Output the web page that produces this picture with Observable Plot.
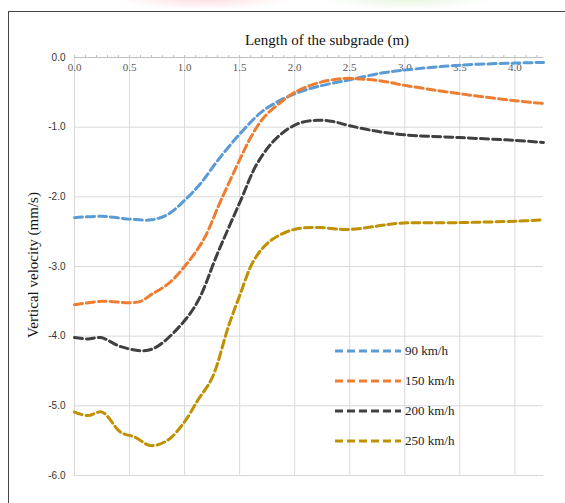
<!DOCTYPE html>
<html><head><meta charset="utf-8">
<script src="https://cdn.jsdelivr.net/npm/d3@7"></script>
<script src="https://cdn.jsdelivr.net/npm/@observablehq/plot@0.6"></script>
<style>
body{margin:0;background:#fff;}
#wrap{position:relative;width:565px;height:503px;overflow:hidden;}
#frame{position:absolute;left:8px;top:11px;width:620px;height:600px;border:1.5px solid #444;box-sizing:border-box;}
.blob{position:absolute;top:-14px;height:24px;border-radius:50%;}
#legend{position:absolute;left:335px;top:336px;font-family:"Liberation Serif","Times New Roman",serif;font-size:13px;color:#222;}
#legend div{height:30px;display:flex;align-items:center;}
#legend svg{margin-right:4px;}
#plot{position:absolute;left:0;top:0;}
</style></head><body>
<div id="wrap">
<div class="blob" style="left:115px;width:180px;background:radial-gradient(ellipse at center,rgba(250,190,195,0.55),rgba(255,255,255,0) 70%);"></div>
<div class="blob" style="left:320px;width:175px;background:radial-gradient(ellipse at center,rgba(205,235,190,0.55),rgba(255,255,255,0) 70%);"></div>
<div id="frame"></div>
<div id="plot"></div>
<div id="legend"></div>
</div>
<script>
const seriesNames = ["90 km/h", "150 km/h", "200 km/h", "250 km/h"];
const seriesColors = ["#5b9bd5", "#ed7d31", "#404040", "#bf9000"];

const x90 = [0, 0.25, 0.5, 0.7, 0.85, 1.0, 1.15, 1.3, 1.5, 1.7, 1.85, 2.0, 2.2, 2.5, 2.8, 3.0, 3.5, 4.0, 4.26];
const y90 = [-2.30, -2.28, -2.32, -2.33, -2.25, -2.05, -1.80, -1.48, -1.10, -0.78, -0.63, -0.52, -0.42, -0.32, -0.22, -0.18, -0.11, -0.08, -0.07];

const x150 = [0, 0.25, 0.5, 0.6, 0.7, 0.85, 1.0, 1.17, 1.33, 1.5, 1.6, 1.72, 1.9, 2.0, 2.2, 2.45, 2.6, 2.8, 3.0, 3.5, 4.0, 4.26];
const y150 = [-3.55, -3.50, -3.52, -3.50, -3.40, -3.25, -3.00, -2.62, -2.05, -1.47, -1.15, -0.86, -0.61, -0.50, -0.37, -0.30, -0.31, -0.34, -0.40, -0.52, -0.62, -0.66];

const x200 = [0, 0.12, 0.24, 0.42, 0.63, 0.75, 0.96, 1.12, 1.3, 1.51, 1.66, 1.84, 2.03, 2.21, 2.35, 2.5, 2.75, 3.0, 3.5, 4.0, 4.26];
const y200 = [-4.02, -4.04, -4.02, -4.15, -4.21, -4.15, -3.85, -3.50, -2.81, -2.05, -1.52, -1.15, -0.95, -0.90, -0.92, -0.98, -1.06, -1.11, -1.15, -1.19, -1.22];

const x250 = [0, 0.12, 0.25, 0.42, 0.55, 0.69, 0.84, 0.99, 1.12, 1.25, 1.4, 1.5, 1.63, 1.78, 1.99, 2.21, 2.48, 2.75, 2.94, 3.5, 4.0, 4.26];
const y250 = [-5.09, -5.14, -5.09, -5.38, -5.45, -5.57, -5.50, -5.25, -4.92, -4.60, -3.85, -3.42, -2.91, -2.63, -2.47, -2.44, -2.47, -2.42, -2.38, -2.37, -2.35, -2.33];

const xTicks = [0, 0.5, 1.0, 1.5, 2.0, 2.5, 3.0, 3.5, 4.0];
const yTicks = [0, -1, -2, -3, -4, -5, -6];

const xs = [x90, x150, x200, x250];
const ys = [y90, y150, y200, y250];
const data = [];
seriesNames.forEach((s, i) => xs[i].forEach((x, j) => data.push({series: s, x, y: ys[i][j]})));

const serif = "'Liberation Serif', 'Times New Roman', serif";
const chart = Plot.plot({
  width: 565,
  height: 503,
  marginLeft: 74,
  marginRight: 22,
  marginTop: 57,
  marginBottom: 28,
  style: {fontFamily: "'Liberation Sans', Arial, sans-serif", fontSize: "10px", background: "transparent"},
  x: {domain: [0, 4.26]},
  y: {domain: [-6, 0]},
  color: {domain: seriesNames, range: seriesColors},
  marks: [
    Plot.gridX(xTicks, {stroke: "#d9d9d9", strokeOpacity: 1, strokeWidth: 1}),
    Plot.gridY(yTicks, {stroke: "#d9d9d9", strokeOpacity: 1, strokeWidth: 1}),
    Plot.ruleY([0], {stroke: "#bfbfbf", strokeWidth: 1}),
    Plot.axisX(d3.range(0, 4.26, 0.1), {anchor: "top", tickSize: 3, stroke: "#bfbfbf", text: null, label: null}),
    Plot.axisX(xTicks, {anchor: "top", tickSize: 0, dy: 22, tickFormat: d => d.toFixed(1), fill: "#595959", fontFamily: serif, fontSize: 11, label: null}),
    Plot.axisY(yTicks, {anchor: "left", tickSize: 0, tickPadding: 9, tickFormat: d => d.toFixed(1), fill: "#333", label: null}),
    Plot.line(data, {x: "x", y: "y", z: "series", stroke: "series", strokeWidth: 3, strokeDasharray: "8,4", curve: "catmull-rom"})
  ]
});
document.getElementById("plot").appendChild(chart);

const svg = d3.select(chart);
svg.append("text").attr("x", 327).attr("y", 45).attr("text-anchor", "middle")
  .attr("font-family", serif).attr("font-size", 15).attr("fill", "#111")
  .text("Length of the subgrade (m)");
svg.append("text").attr("transform", "translate(38,265) rotate(-90)").attr("text-anchor", "middle")
  .attr("font-family", serif).attr("font-size", 15).attr("fill", "#111")
  .text("Vertical velocity (mm/s)");

const leg = document.getElementById("legend");
seriesNames.forEach((s, i) => {
  const row = document.createElement("div");
  row.innerHTML = `<svg width="66" height="6"><line x1="0" x2="66" y1="3" y2="3" stroke="${seriesColors[i]}" stroke-width="3" stroke-dasharray="8,4"/></svg><span>${s}</span>`;
  leg.appendChild(row);
});
</script>
</body></html>
